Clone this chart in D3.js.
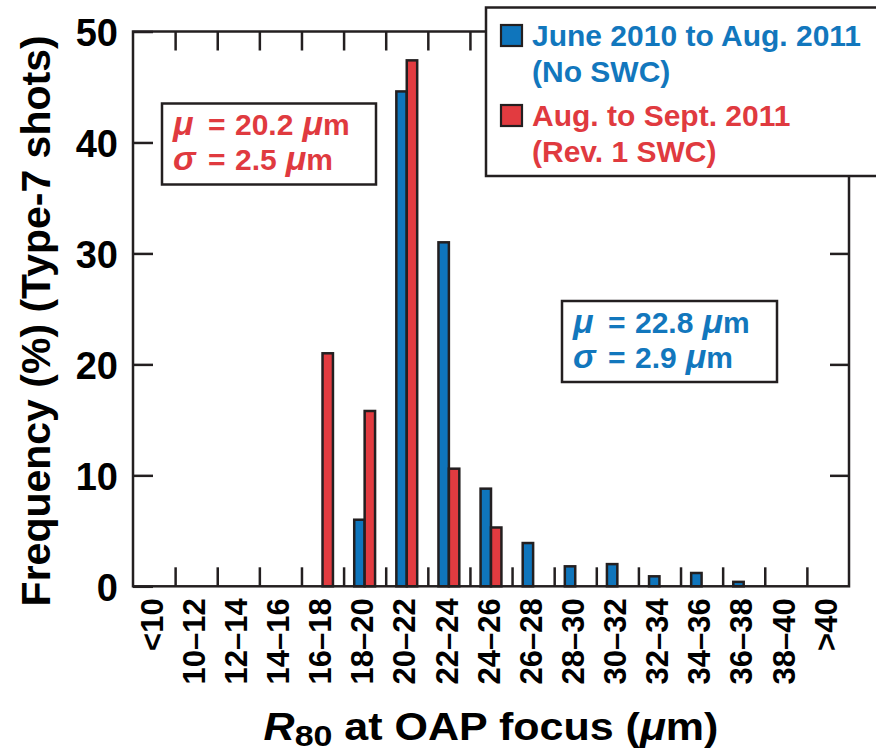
<!DOCTYPE html>
<html>
<head>
<meta charset="utf-8">
<script src="https://cdn.jsdelivr.net/npm/d3@7"></script>
<style>
  html, body { margin: 0; padding: 0; background: #fff; }
  svg { display: block; font-family: "Liberation Sans", Arial, Helvetica, sans-serif; font-weight: bold; }
</style>
</head>
<body>
<svg id="chart" width="876" height="753"></svg>
<script>
// R80 size bins at the OAP focus
const categories = ["<10", "10–12", "12–14", "14–16", "16–18", "18–20", "20–22", "22–24",
  "24–26", "26–28", "28–30", "30–32", "32–34", "34–36", "36–38", "38–40", ">40"];

// Frequency (%) of Type-7 shots in each bin
const noSwcValues = [0, 0, 0, 0, 0, 6.0, 44.6, 31.0, 8.8, 3.9, 1.8, 2.0, 0.9, 1.2, 0.4, 0, 0];
const rev1SwcValues = [0, 0, 0, 0, 21.0, 15.8, 47.4, 10.6, 5.3, 0, 0, 0, 0, 0, 0, 0, 0];

const seriesKeys = ["noSwc", "rev1Swc"];
const seriesTitles = ["June 2010 to Aug. 2011", "Aug. to Sept. 2011"];
const seriesNotes = ["(No SWC)", "(Rev. 1 SWC)"];
const seriesColors = ["#0f75bc", "#e23b40"];
const textColors = ["#1277bd", "#e03a3f"];

// Summary statistics for each period
const statMeans = ["22.8", "20.2"];
const statSigmas = ["2.9", "2.5"];

const yTicks = [0, 10, 20, 30, 40, 50];

const ink = "#231f20";
const svg = d3.select("#chart");
const plot = { left: 133, right: 849, top: 31.5, bottom: 586.3 };

const x = d3.scaleBand().domain(categories).range([plot.left, plot.right]).padding(0);
const xEdge = d3.scaleLinear().domain([0, categories.length]).range([plot.left, plot.right]);
const xSeries = d3.scaleBand().domain(seriesKeys).range([0, x.bandwidth()])
  .paddingInner(0).paddingOuter(1.02);
const y = d3.scaleLinear().domain([0, 50]).range([plot.bottom, plot.top]);

const rows = categories.map((c, i) => ({ cat: c, noSwc: noSwcValues[i], rev1Swc: rev1SwcValues[i] }));

// Bars
const groups = svg.append("g").selectAll("g").data(rows).join("g")
  .attr("transform", d => `translate(${x(d.cat)},0)`);
groups.selectAll("rect")
  .data(d => seriesKeys.map((k, j) => ({ key: k, j, v: d[k] })).filter(e => e.v > 0))
  .join("rect")
  .attr("x", e => xSeries(e.key))
  .attr("width", xSeries.bandwidth())
  .attr("y", e => y(e.v))
  .attr("height", e => y(0) - y(e.v))
  .attr("fill", e => seriesColors[e.j])
  .attr("stroke", ink)
  .attr("stroke-width", 2.5);

// Axes with inward ticks on all four sides
function styleAxis(g) {
  g.selectAll("line").attr("stroke", ink).attr("stroke-width", 2.5);
  g.select(".domain").remove();
}
const edgeTicks = d3.range(1, categories.length);

svg.append("g").attr("transform", `translate(0,${plot.bottom})`)
  .call(d3.axisBottom(xEdge).tickValues(edgeTicks).tickSize(-19).tickFormat(""))
  .call(styleAxis);
svg.append("g").attr("transform", `translate(0,${plot.top})`)
  .call(d3.axisTop(xEdge).tickValues(edgeTicks).tickSize(-19).tickFormat(""))
  .call(styleAxis);
svg.append("g").attr("transform", `translate(${plot.right},0)`)
  .call(d3.axisRight(y).tickValues(yTicks.slice(1, -1)).tickSize(-19).tickFormat(""))
  .call(styleAxis);

const yAxis = svg.append("g").attr("transform", `translate(${plot.left},0)`)
  .call(d3.axisLeft(y).tickValues(yTicks).tickSize(-20).tickPadding(15).tickSizeOuter(0))
  .call(styleAxis);
yAxis.selectAll("text")
  .attr("font-size", 38).attr("font-weight", "bold").attr("fill", "#000")
  .attr("font-family", "Liberation Sans, Arial, sans-serif")
  .attr("dy", "0.38em");

// Category labels, rotated
const xAxis = svg.append("g").attr("transform", `translate(0,${plot.bottom})`)
  .call(d3.axisBottom(x).tickSize(0).tickPadding(0));
xAxis.select(".domain").remove();
xAxis.selectAll("text")
  .attr("font-size", 31).attr("font-weight", "bold").attr("fill", "#000")
  .attr("font-family", "Liberation Sans, Arial, sans-serif")
  .attr("transform", "rotate(-90)")
  .attr("text-anchor", "end")
  .attr("x", -12).attr("y", 0)
  .attr("dy", "0.28em");

// Plot frame
svg.append("rect")
  .attr("x", plot.left).attr("y", plot.top)
  .attr("width", plot.right - plot.left).attr("height", plot.bottom - plot.top)
  .attr("fill", "none").attr("stroke", ink).attr("stroke-width", 2.5);

// Axis titles
svg.append("text")
  .attr("transform", `translate(50,${(plot.top + plot.bottom) / 2 + 12}) rotate(-90)`)
  .attr("text-anchor", "middle")
  .attr("font-size", 41)
  .text("Frequency (%) (Type-7 shots)");

const xTitle = svg.append("text")
  .attr("text-anchor", "middle")
  .attr("font-size", 38);
xTitle.append("tspan").attr("font-style", "italic").text("R");
xTitle.append("tspan").attr("font-size", 30).attr("dy", 6).text("80");
xTitle.append("tspan").attr("dy", -6).text(" at OAP focus (");
xTitle.append("tspan").attr("font-style", "italic").text("μ");
xTitle.append("tspan").text("m)");
const xtw = xTitle.node().getComputedTextLength();
const xtScale = 455 / xtw;
xTitle.attr("transform", `translate(${(plot.left + plot.right) / 2},740) scale(${xtScale},1)`);

// Statistics boxes
function statBox(px, py, w, h, j) {
  const g = svg.append("g");
  g.append("rect").attr("x", px).attr("y", py).attr("width", w).attr("height", h)
    .attr("fill", "#fff").attr("stroke", ink).attr("stroke-width", 2.5);
  const lines = [["μ", statMeans[j]], ["σ", statSigmas[j]]];
  lines.forEach((ln, k) => {
    const t = g.append("text")
      .attr("y", py + 31.5 + k * 35)
      .attr("font-size", 30).attr("fill", textColors[j]);
    t.append("tspan").attr("x", px + 11).attr("font-style", "italic").attr("font-size", 34).text(ln[0]);
    t.append("tspan").attr("x", px + 46).text("=");
    t.append("tspan").attr("x", px + 73).text(ln[1]);
    t.append("tspan").attr("dx", 9).attr("font-style", "italic").attr("font-size", 34).text("μ");
    t.append("tspan").text("m");
  });
}
statBox(162, 103.5, 214, 81, 1);
statBox(562, 301, 215, 81, 0);

// Legend
const legend = svg.append("g");
legend.append("rect").attr("x", 486).attr("y", 7.5).attr("width", 400).attr("height", 168.5)
  .attr("fill", "#fff").attr("stroke", ink).attr("stroke-width", 2.5);
seriesKeys.forEach((k, j) => {
  const top = 25 + j * 80;
  legend.append("rect").attr("x", 501).attr("y", top).attr("width", 21).attr("height", 21)
    .attr("fill", seriesColors[j]).attr("stroke", ink).attr("stroke-width", 2.2);
  legend.append("text").attr("x", 532).attr("y", top + 21).attr("font-size", 30)
    .attr("fill", textColors[j]).text(seriesTitles[j]);
  legend.append("text").attr("x", 532).attr("y", top + 56.5).attr("font-size", 30)
    .attr("fill", textColors[j]).text(seriesNotes[j]);
});
</script>
</body>
</html>
